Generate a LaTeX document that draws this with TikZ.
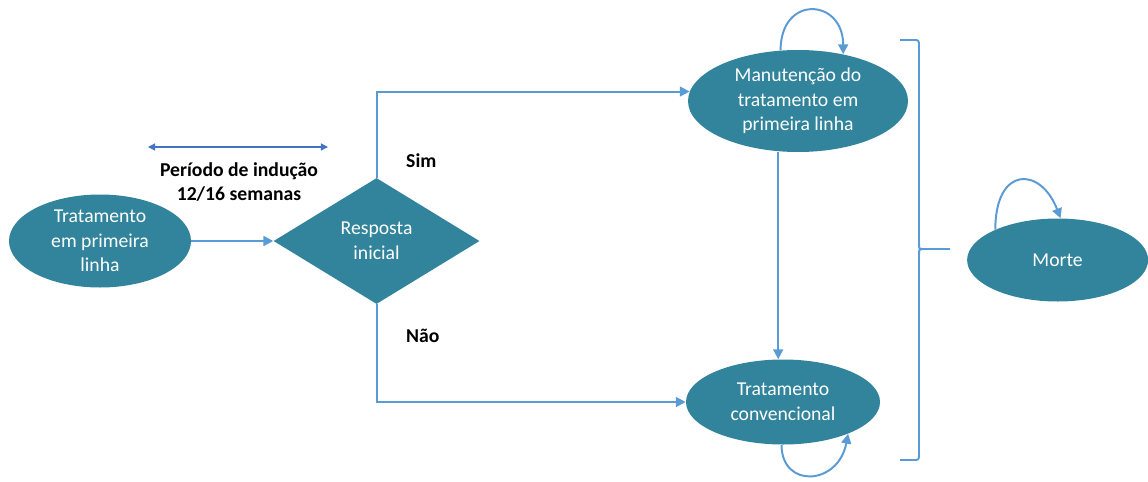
\documentclass[tikz,border=0pt]{standalone}
\usepackage{fontspec}
\setmainfont{Carlito}
\usetikzlibrary{arrows.meta,positioning,shapes.geometric}
\definecolor{stateteal}{HTML}{31849B}
\definecolor{linkblue}{HTML}{5B9BD5}
\definecolor{spanblue}{HTML}{4472C4}

\begin{document}
\begin{tikzpicture}[font=\fontsize{14}{17.5}\selectfont,>=Latex]
    \tikzset{
      state/.style={ellipse, fill=stateteal, text=white, align=center, inner sep=0pt},
      decision/.style={diamond, aspect=1.6, fill=stateteal, text=white, align=center, inner sep=0pt,
        minimum width=5.15cm, minimum height=3.15cm},
      arrow/.style={-{Triangle[length=7pt,width=7pt]}, linkblue, line width=1.4pt},
      span/.style={{Triangle[length=5pt,width=5pt]}-{Triangle[length=5pt,width=5pt]}, spanblue, line width=0.9pt},
      bracket/.style={linkblue, line width=1.4pt, rounded corners=2pt},
      tag/.style={font=\fontsize{14}{17.5}\selectfont\bfseries, text=black, align=center}
    }
    \useasboundingbox (0,0) rectangle (28.7,12.025);
    \node[state, minimum width=4.55cm, minimum height=2.325cm] (start) at (2.5,6.0) {Tratamento\\em primeira\\linha};
    \node[decision, right=2.05cm of start] (resp) {Resposta\\inicial};
    \node[state, minimum width=5.5cm, minimum height=2.55cm] (maint) at (19.95,9.5)
      {Manutenção do\\tratamento em\\primeira linha};
    \node[state, minimum width=4.85cm, minimum height=2.125cm] (conv) at (19.575,1.975) {Tratamento\\convencional};
    \node[state, minimum width=4.525cm, minimum height=2.075cm] (death) at (26.44,5.525) {Morte};
    % induction period above the first arrow
    \node[tag] (period) at (5.975,7.475) {Período de indução\\12/16 semanas};
    \coordinate (indL) at (3.7,8.35);
    \coordinate (indR) at (8.2,8.35);
    \draw[span] (indL) -- (indR);
    \draw[arrow] (start) -- (resp);
    \draw[arrow] (resp.north) |- node[tag, pos=0.1, right=0.6cm]{Sim} (maint.175);
    \draw[arrow] (resp.south) |- node[tag, pos=0.16, right=0.6cm]{Não} (conv.west);
    \draw[arrow] ([xshift=-0.12cm]maint.south -| conv.north) -- ([xshift=-0.12cm]conv.north);
    % staying in the same state
    \draw[arrow] (maint.109) .. controls +(0,1.4) and +(0,1.4) .. (maint.46);
    \draw[arrow] (conv.268) .. controls +(0,-1.1) and +(-0.25,-1.3) .. (conv.334);
    \draw[arrow] (death.154.5) .. controls +(0,1.6) and +(-0.5,1.3) .. (death.86);
    % both treatment states lead to death
    \draw[bracket] (22.5,11.025) -- (22.975,11.025) -- (22.975,6.0)
      .. controls (22.975,5.8) .. (23.15,5.8) -- (23.75,5.8);
    \draw[bracket] (23.15,5.8) .. controls (22.975,5.8) .. (22.975,5.6)
      -- (22.975,0.525) -- (22.5,0.525);
\end{tikzpicture}
\end{document}
